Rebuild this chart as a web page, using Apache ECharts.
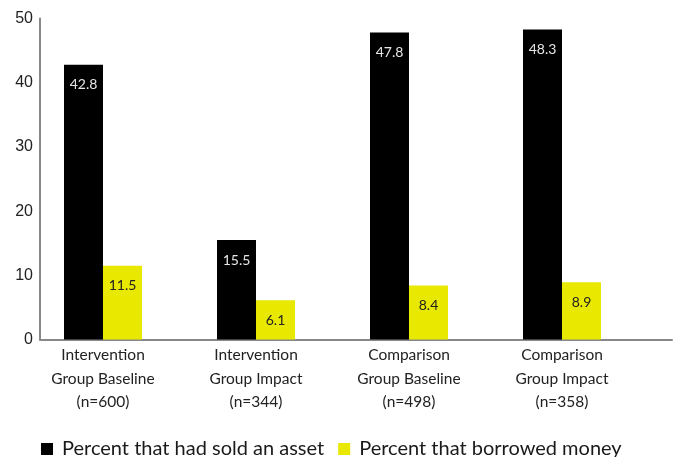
<!DOCTYPE html>
<html><head><meta charset="utf-8">
<script src="https://cdn.jsdelivr.net/npm/echarts@6/dist/echarts.min.js"></script>
<style>html,body{margin:0;padding:0;background:#fff}#c{width:678px;height:457px}</style>
</head><body><div id="c"></div>
<script>
var categories = ['Intervention\nGroup Baseline\n(n=600)', 'Intervention\nGroup Impact\n(n=344)', 'Comparison\nGroup Baseline\n(n=498)', 'Comparison\nGroup Impact\n(n=358)'];
var soldAsset = [42.8, 15.5, 47.8, 48.3];
var borrowed = [11.5, 6.1, 8.4, 8.9];
var seriesNames = ['Percent that had sold an asset', 'Percent that borrowed money'];
var yTicks = [0, 10, 20, 30, 40, 50];

var FONT = "Lato, 'Liberation Sans', sans-serif";
var chart = echarts.init(document.getElementById('c'));
chart.setOption({
  animation: false,
  textStyle: {fontFamily: FONT},
  grid: [
    {left: 40, right: 6, top: 18.5, bottom: 117.5},
    {left: 26.5, right: 39.5, top: 18.5, bottom: 117.5}
  ],
  xAxis: [
    {gridIndex: 0, type: 'value', min: 0, max: 1, axisLine: {show: true, lineStyle: {color: '#888', width: 2}}, axisTick: {show: false}, axisLabel: {show: false}, splitLine: {show: false}},
    {gridIndex: 1, type: 'category', data: categories, axisLine: {show: false}, axisTick: {show: false},
     axisLabel: {interval: 0, margin: 4, fontSize: 15.5, lineHeight: 23.5, color: '#222', fontFamily: FONT}}
  ],
  yAxis: [
    {gridIndex: 0, type: 'value', min: yTicks[0], max: yTicks[yTicks.length-1], interval: 10,
     axisLine: {show: true, lineStyle: {color: '#888', width: 2}}, axisTick: {show: false}, splitLine: {show: false},
     axisLabel: {margin: 7, fontSize: 16, color: '#222', fontFamily: "'Liberation Sans', sans-serif"}},
    {gridIndex: 1, type: 'value', min: yTicks[0], max: yTicks[yTicks.length-1], interval: 10, show: false}
  ],
  legend: {
    left: 36, top: 434, itemWidth: 12, itemHeight: 12, itemGap: 14, icon: 'rect',
    textStyle: {fontSize: 20, color: '#1a1a1a', fontFamily: FONT, padding: [0, 0, 0, 4]},
    data: seriesNames
  },
  series: [
    {name: seriesNames[0], type: 'bar', xAxisIndex: 1, yAxisIndex: 1, data: soldAsset, barWidth: 39, barGap: '0%',
     itemStyle: {color: '#000'},
     label: {show: true, position: 'insideTop', distance: 13, fontSize: 14, color: '#e6e6e6', fontFamily: FONT}},
    {name: seriesNames[1], type: 'bar', xAxisIndex: 1, yAxisIndex: 1, data: borrowed, barWidth: 39, barGap: '0%',
     itemStyle: {color: '#e8e800'},
     label: {show: true, position: 'insideTop', distance: 13, fontSize: 14, color: '#222', fontFamily: FONT}}
  ]
});
</script></body></html>
